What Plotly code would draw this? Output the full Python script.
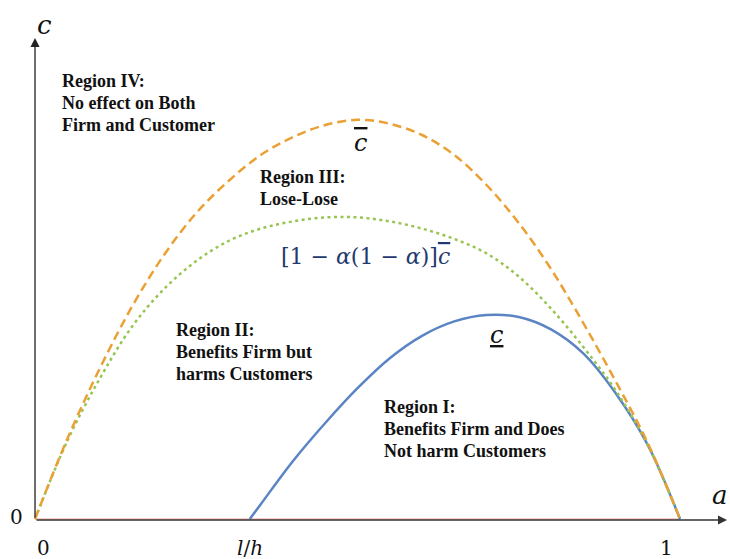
import plotly.graph_objects as go

# Upper threshold  c-bar(a)
cbar_a = [0.0, 0.05, 0.10, 0.15, 0.20, 0.25, 0.30, 0.35, 0.40, 0.45, 0.50,
          0.55, 0.60, 0.65, 0.70, 0.75, 0.80, 0.85, 0.90, 0.95, 1.0]
cbar_c = [0.0, 0.200, 0.375, 0.530, 0.660, 0.765, 0.845, 0.910, 0.955, 0.985, 0.998,
          0.988, 0.960, 0.910, 0.835, 0.740, 0.625, 0.490, 0.345, 0.190, 0.0]

# Middle threshold  [1 - a(1 - a)] c-bar
mid_a = [0.0, 0.05, 0.10, 0.15, 0.20, 0.25, 0.30, 0.35, 0.40, 0.45, 0.50,
         0.55, 0.60, 0.65, 0.70, 0.75, 0.80, 0.85, 0.90, 0.95, 1.0]
mid_c = [0.0, 0.195, 0.350, 0.480, 0.575, 0.645, 0.695, 0.726, 0.744, 0.754, 0.754,
         0.744, 0.726, 0.700, 0.664, 0.606, 0.526, 0.430, 0.322, 0.185, 0.0]

# Lower threshold  c-underbar(a), starting at l/h
low_a = [0.333, 0.35, 0.40, 0.45, 0.50, 0.55, 0.60, 0.65, 0.70, 0.75, 0.80, 0.85, 0.90, 0.95, 1.0]
low_c = [0.0, 0.037, 0.145, 0.240, 0.327, 0.402, 0.458, 0.494, 0.510, 0.505, 0.474, 0.414, 0.315, 0.185, 0.0]

# horizontal-axis labels and their values
x_ticks = [0.0, 0.333, 1.0]
x_tick_labels = ["0", "<i>l</i>/<i>h</i>", "1"]
x_tick_shift = [8, 0, -14]

serif = "Liberation Serif"
math = "DejaVu Serif"
ink = "#111111"

fig = go.Figure()

# c = 0 reference line
fig.add_trace(go.Scatter(x=[0, 1], y=[0, 0], mode="lines",
                         line=dict(color="#F29A88", width=1.2), hoverinfo="skip"))
# lower curve first so the dashed and dotted curves stay visible where they meet
fig.add_trace(go.Scatter(x=low_a, y=low_c, mode="lines", line_shape="spline",
                         line=dict(color="#5B84C4", width=2.5)))
fig.add_trace(go.Scatter(x=mid_a, y=mid_c, mode="lines", line_shape="spline",
                         line=dict(color="#98C452", width=2.5, dash="3px,3.5px")))
fig.add_trace(go.Scatter(x=cbar_a, y=cbar_c, mode="lines", line_shape="spline",
                         line=dict(color="#EBA033", width=2.5, dash="9px,5px")))

ann = []
# axes with arrowheads
ann.append(dict(x=0, y=1.2025, ax=0, ay=0, xref="x", yref="y", axref="x", ayref="y",
                showarrow=True, arrowhead=2, arrowsize=1.4, arrowwidth=1.3,
                arrowcolor="#222222", text=""))
ann.append(dict(x=1.073, y=0, ax=0, ay=0, xref="x", yref="y", axref="x", ayref="y",
                showarrow=True, arrowhead=2, arrowsize=1.4, arrowwidth=1.3,
                arrowcolor="#333333", text="", yshift=-1))

# axis names
ann.append(dict(x=0.014, y=1.235, xref="x", yref="y", text="<i>c</i>", showarrow=False,
                font=dict(family=math, size=26, color=ink), xanchor="center", yanchor="middle"))
ann.append(dict(x=1.062, y=0.06, xref="x", yref="y", text="<i>a</i>", showarrow=False,
                font=dict(family=math, size=26, color=ink), xanchor="center", yanchor="middle"))
ann.append(dict(x=-0.028, y=0.005, xref="x", yref="y", text="0", showarrow=False,
                font=dict(family=math, size=20, color=ink), xanchor="center", yanchor="middle"))

# labels under the a-axis
for xv, lab, sh in zip(x_ticks, x_tick_labels, x_tick_shift):
    ann.append(dict(x=xv, y=-0.0725, xref="x", yref="y", text=lab, xshift=sh,
                    showarrow=False, font=dict(family=math, size=20, color=ink),
                    xanchor="center", yanchor="middle"))

# curve labels
ann.append(dict(x=0.505, y=0.94, xref="x", yref="y",
                text="<span style='text-decoration:overline'><i>c</i></span>", showarrow=False,
                font=dict(family=math, size=24, color=ink), xanchor="center", yanchor="middle"))
ann.append(dict(x=0.716, y=0.46, xref="x", yref="y", text="<u><i>c</i></u>", showarrow=False,
                font=dict(family=math, size=24, color=ink), xanchor="center", yanchor="middle"))
ann.append(dict(x=0.513, y=0.6575, xref="x", yref="y",
                text="[1 − <i>α</i>(1 − <i>α</i>)]<span style='text-decoration:overline'><i>c</i></span>",
                showarrow=False, font=dict(family=math, size=22, color="#1F3A6E"),
                xanchor="center", yanchor="middle"))

# region descriptions, one line at a time
regions = [
    (0.0388, 0.595, ["Region IV:", "No effect on Both", "Firm and Customer"]),
    (0.3457, 0.355, ["Region III:", "Lose-Lose"]),
    (0.2155, -0.0275, ["Region II:", "Benefits Firm but", "harms Customers"]),
    (0.538, -0.22, ["Region I:", "Benefits Firm and Does", "Not harm Customers"]),
]
line_step = 0.055
for xv, y0, lines in regions:
    for k, txt in enumerate(lines):
        ann.append(dict(x=xv, y=y0 + 0.5 - k * line_step, xref="x", yref="y",
                        text="<b>" + txt + "</b>", showarrow=False,
                        align="left", xanchor="left", yanchor="middle",
                        font=dict(family=serif, size=18, color=ink)))

fig.update_layout(
    width=730, height=559,
    margin=dict(l=0, r=0, t=0, b=0),
    paper_bgcolor="white", plot_bgcolor="white",
    showlegend=False,
    xaxis=dict(range=[-0.0543, 1.0775], visible=False, fixedrange=True),
    yaxis=dict(range=[-0.1, 1.2975], visible=False, fixedrange=True),
    annotations=ann,
)

fig.write_html("out.html")
